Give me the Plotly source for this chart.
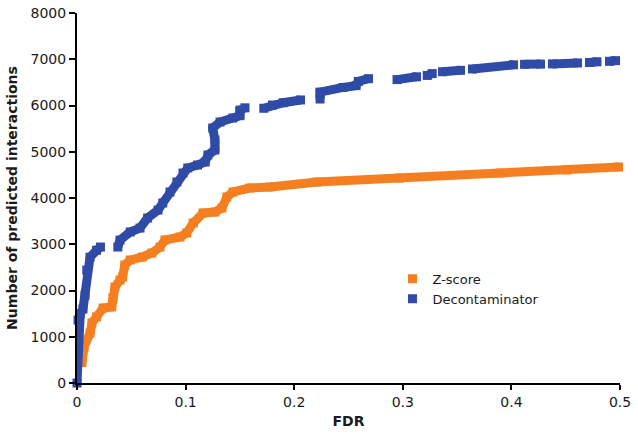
import plotly.graph_objects as go

# ---- data ----
# Z-score curve (FDR, number of predicted interactions)
z_fdr = [0.0046, 0.0065, 0.012, 0.0138, 0.018, 0.024, 0.032, 0.033, 0.035, 0.0396,
         0.042, 0.044, 0.049, 0.060, 0.069, 0.0764, 0.081, 0.0948, 0.101, 0.107,
         0.116, 0.127, 0.1335, 0.138, 0.1436, 0.159, 0.1777, 0.221, 0.297, 0.3895,
         0.451, 0.4986]
z_count = [440, 780, 1080, 1300, 1430, 1620, 1645, 1840, 2076, 2227,
           2292, 2551, 2659, 2724, 2810, 2940, 3092, 3157, 3243, 3459,
           3676, 3697, 3784, 4022, 4130, 4216, 4238, 4346, 4432, 4540,
           4605, 4670]

# Decontaminator curve: None marks a gap where no points exist
d_fdr = [0.0, 0.001, 0.003, 0.0055, 0.0074, 0.009, 0.012, 0.018, 0.0216, None,
         0.0376, 0.0396, 0.049, 0.058, 0.065, 0.0746, 0.079, 0.0856, 0.092, 0.0976,
         0.102, 0.111, 0.118, 0.1206, 0.127, 0.127, 0.125, 0.1317, 0.1436, 0.150,
         0.150, 0.1547, None,
         0.172, 0.180, 0.190, 0.2058, None,
         0.2238, 0.2238, 0.245, 0.257, 0.259, 0.2684, None,
         0.2947, 0.3126, None, 0.3225, 0.3271, None, 0.3366, 0.3531, None,
         0.3642, 0.4019, None, 0.4121, 0.4268, None, 0.4378, 0.4609, None,
         0.4719, 0.4788, None, 0.4903, 0.4959]
d_count = [0, 1360, 1500, 1600, 1900, 2440, 2720, 2870, 2940, None,
           2940, 3090, 3265, 3350, 3567, 3740, 3892, 4130, 4346, 4540,
           4649, 4714, 4778, 4930, 5038, 5254, 5514, 5643, 5730, 5780,
           5900, 5950, None,
           5940, 6010, 6060, 6120, None,
           6140, 6290, 6390, 6430, 6520, 6580, None,
           6560, 6620, None, 6650, 6690, None, 6730, 6760, None,
           6790, 6880, None, 6890, 6895, None, 6900, 6920, None,
           6930, 6945, None, 6955, 6970]

x_ticks = [0, 0.1, 0.2, 0.3, 0.4, 0.5]
x_tick_text = ["0", "0.1", "0.2", "0.3", "0.4", "0.5"]
y_ticks = [0, 1000, 2000, 3000, 4000, 5000, 6000, 7000, 8000]

series = [
    ("Z-score", z_fdr, z_count, "#F57F20"),
    ("Decontaminator", d_fdr, d_count, "#2F4BA6"),
]

fig = go.Figure()
for name, xs, ys, color in series:
    fig.add_trace(go.Scatter(
        x=xs, y=ys, mode="lines", name=name, legendgroup=name,
        showlegend=False, connectgaps=False, cliponaxis=False,
        line=dict(color=color, width=9), hoverinfo="skip"))
    fig.add_trace(go.Scatter(
        x=xs, y=ys, mode="markers", name=name, legendgroup=name,
        cliponaxis=False,
        marker=dict(symbol="square", size=9, color=color, line=dict(width=0))))

font_family = "DejaVu Sans, Verdana, sans-serif"
fig.update_layout(
    width=638, height=434,
    margin=dict(l=77, r=18, t=13, b=51, autoexpand=False),
    paper_bgcolor="white", plot_bgcolor="white",
    font=dict(family=font_family, size=14, color="#1a1a1a"),
    showlegend=True,
    legend=dict(x=0.581, y=0.322, xanchor="left", yanchor="top",
                font=dict(size=13, color="#1a1a1a"),
                bgcolor="rgba(0,0,0,0)", borderwidth=0,
                tracegroupgap=0, itemsizing="trace"),
)
fig.update_xaxes(
    range=[0, 0.5], tickvals=x_ticks, ticktext=x_tick_text, automargin=True,
    showgrid=False, zeroline=False, showline=True, linecolor="black", linewidth=2,
    ticks="outside", ticklen=5, tickwidth=2, tickcolor="black",
    ticklabeloverflow="allow",
    title=dict(text="<b>FDR</b>", font=dict(size=14), standoff=7),
)
fig.update_yaxes(
    range=[0, 8000], tickvals=y_ticks, automargin=True,
    showgrid=False, zeroline=False, showline=True, linecolor="black", linewidth=2,
    ticks="outside", ticklen=6, tickwidth=2, tickcolor="black",
    ticklabeloverflow="allow",
    title=dict(text="<b>Number of predicted interactions</b>", font=dict(size=14), standoff=10),
)

# remove the browser's default 8px body margin so the figure fills the window exactly
fig.write_html("out.html", config={"displayModeBar": False},
               post_script="document.body.style.margin='0';")
